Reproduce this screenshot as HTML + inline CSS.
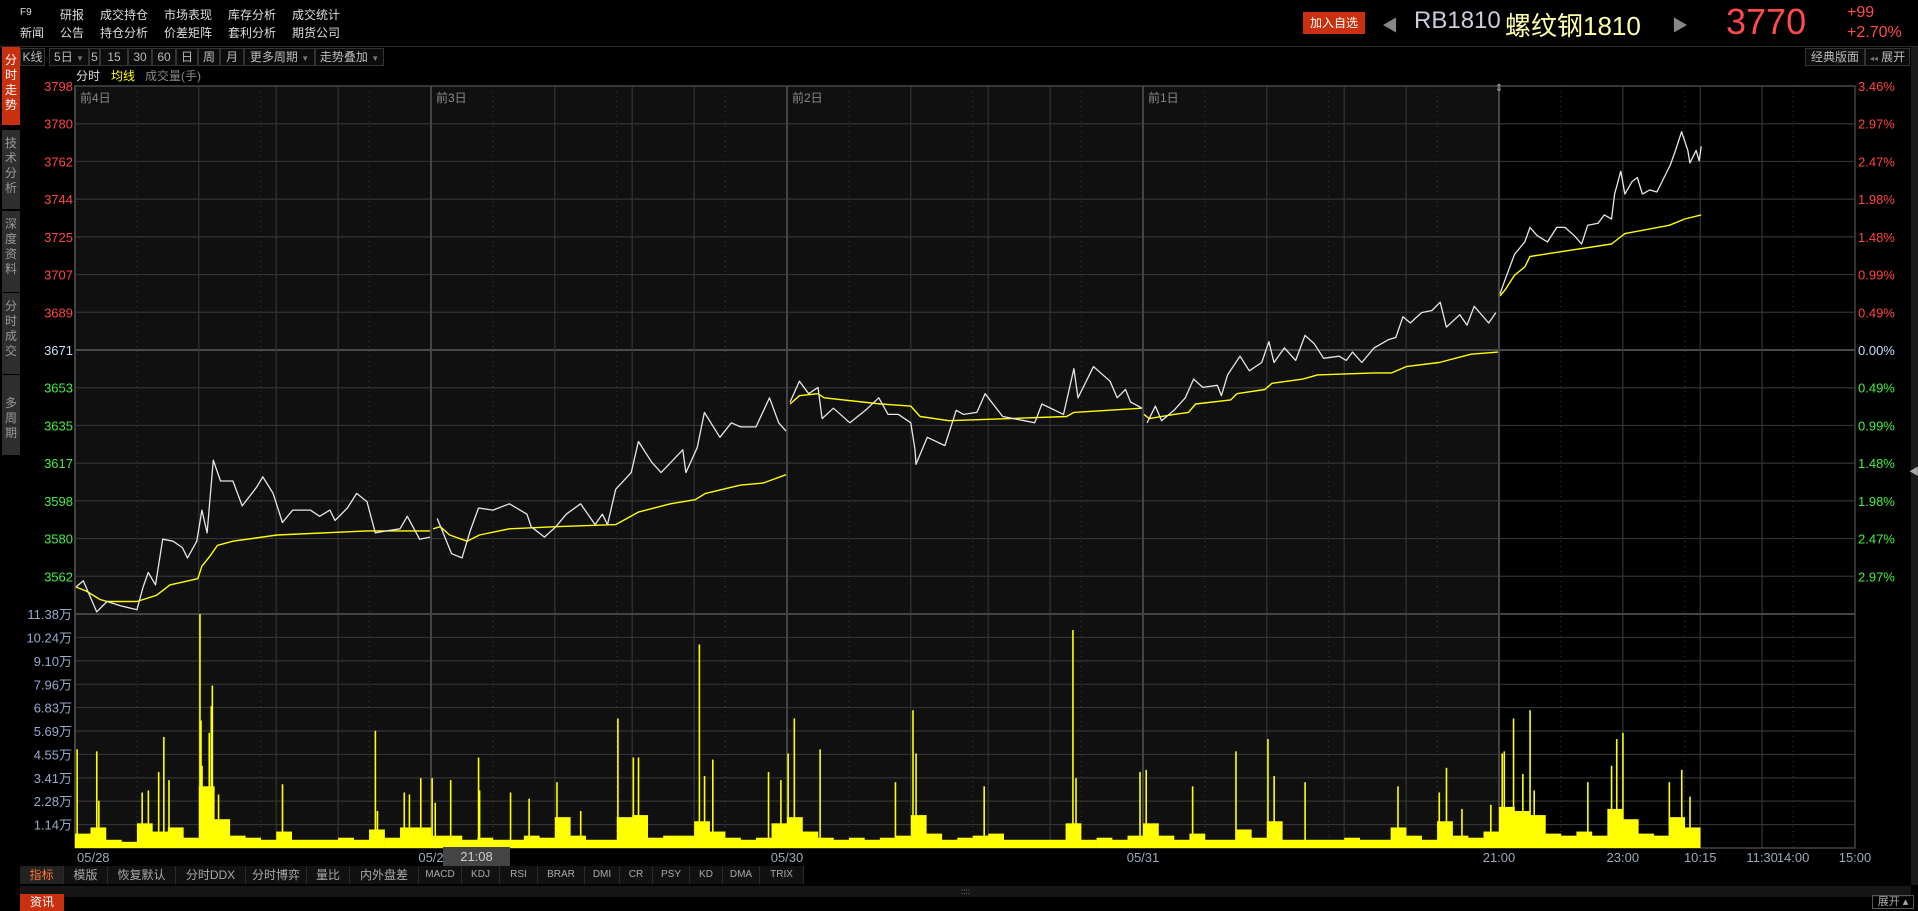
<!DOCTYPE html>
<html><head><meta charset="utf-8">
<style>
*{margin:0;padding:0;box-sizing:border-box}
body{width:1918px;height:911px;background:#000;overflow:hidden;position:relative;font-family:"Liberation Sans","Noto Sans CJK SC",sans-serif;color:#ccc}
.a{position:absolute;white-space:nowrap}
.menu{font-size:12px;color:#ddd}
.tb{position:absolute;top:48px;height:18px;border:1px solid #333;background:#0c0c0c;color:#bbb;font-size:12px;line-height:16px;text-align:center}
.bt{position:absolute;top:866px;height:18px;border-right:1px solid #2a2a2a;background:#111;color:#aaa;font-size:12px;line-height:18px;text-align:center}
.side{position:absolute;left:2px;width:18px;background:#2e2e2e;color:#999;font-size:12px;line-height:15px;text-align:center;padding-top:6px}
</style></head><body>
<div class="a menu" style="left:20px;top:7px;font-size:10px">F9</div>
<div class="a menu" style="left:60px;top:6px">研报</div>
<div class="a menu" style="left:100px;top:6px">成交持仓</div>
<div class="a menu" style="left:164px;top:6px">市场表现</div>
<div class="a menu" style="left:228px;top:6px">库存分析</div>
<div class="a menu" style="left:292px;top:6px">成交统计</div>
<div class="a menu" style="left:20px;top:24px">新闻</div>
<div class="a menu" style="left:60px;top:24px">公告</div>
<div class="a menu" style="left:100px;top:24px">持仓分析</div>
<div class="a menu" style="left:164px;top:24px">价差矩阵</div>
<div class="a menu" style="left:228px;top:24px">套利分析</div>
<div class="a menu" style="left:292px;top:24px">期货公司</div>

<div class="a" style="left:1303px;top:12px;width:62px;height:22px;background:#c8300f;color:#fff;font-size:12px;line-height:22px;text-align:center">加入自选</div>
<div class="a" style="left:1382px;top:12px;font-size:16px;color:#888">◀</div>
<div class="a" style="left:1414px;top:7px;font-size:24px;color:#ccd">RB1810</div>
<div class="a" style="left:1505px;top:6px;font-size:26px;color:#ffffa8">螺纹钢1810</div>
<div class="a" style="left:1672px;top:12px;font-size:16px;color:#888">▶</div>
<div class="a" style="left:1726px;top:1px;font-size:36px;color:#ff4a4a">3770</div>
<div class="a" style="left:1847px;top:4px;font-size:16px;color:#ff4a4a">+99</div>
<div class="a" style="left:1847px;top:24px;font-size:16px;color:#ff4a4a">+2.70%</div>
<div class="a" style="left:0;top:46px;width:1918px;height:1px;background:#2a2a2a"></div>

<div class="tb" style="left:20px;width:25px">K线</div>
<div class="tb" style="left:49px;width:40px">5日 <span style="font-size:8px;color:#777">▼</span></div>
<div class="tb" style="left:89px;width:11px">5</div>
<div class="tb" style="left:100px;width:28px">15</div>
<div class="tb" style="left:128px;width:24px">30</div>
<div class="tb" style="left:152px;width:24px">60</div>
<div class="tb" style="left:176px;width:22px">日</div>
<div class="tb" style="left:198px;width:22px">周</div>
<div class="tb" style="left:220px;width:24px">月</div>
<div class="tb" style="left:244px;width:71px">更多周期 <span style="font-size:8px;color:#777">▼</span></div>
<div class="tb" style="left:315px;width:69px">走势叠加 <span style="font-size:8px;color:#777">▼</span></div>
<div class="tb" style="left:1805px;width:60px">经典版面</div>
<div class="tb" style="left:1865px;width:45px"><span style="font-size:8px;color:#777">◂◂</span> 展开</div>

<div class="a" style="left:76px;top:67px;font-size:12px;color:#ddd">分时</div>
<div class="a" style="left:111px;top:67px;font-size:12px;color:#ffff00">均线</div>
<div class="a" style="left:145px;top:67px;font-size:12px;color:#888">成交量(手)</div>

<div class="side" style="top:47px;height:78px;background:#c8300f;color:#fff">分<br>时<br>走<br>势</div>
<div class="side" style="top:130px;height:79px">技<br>术<br>分<br>析</div>
<div class="side" style="top:211px;height:81px">深<br>度<br>资<br>料</div>
<div class="side" style="top:293px;height:81px">分<br>时<br>成<br>交</div>
<div class="side" style="top:375px;height:80px"><br>多<br>周<br>期</div>
<div class="a" style="left:1911px;top:47px;width:7px;height:838px;background:#1a1a1a"></div>
<div class="a" style="left:1909px;top:463px;font-size:10px;color:#aaa">◀</div>

<svg id="chart" class="a" style="left:0;top:0" width="1918" height="911"></svg>

<div class="a" style="left:443px;top:847px;width:67px;height:19px;background:#444;color:#ccc;font-size:13px;line-height:19px;text-align:center">21:08</div>

<div class="bt" style="left:20px;width:44px;color:#ff7733;background:#222">指标</div>
<div class="bt" style="left:64px;width:44px">模版</div>
<div class="bt" style="left:108px;width:68px">恢复默认</div>
<div class="bt" style="left:176px;width:70px">分时DDX</div>
<div class="bt" style="left:246px;width:61px">分时博弈</div>
<div class="bt" style="left:307px;width:43px">量比</div>
<div class="bt" style="left:350px;width:69px">内外盘差</div>
<div class="bt" style="left:419px;width:43px;font-size:10px">MACD</div>
<div class="bt" style="left:462px;width:38px;font-size:10px">KDJ</div>
<div class="bt" style="left:500px;width:38px;font-size:10px">RSI</div>
<div class="bt" style="left:538px;width:47px;font-size:10px">BRAR</div>
<div class="bt" style="left:585px;width:35px;font-size:10px">DMI</div>
<div class="bt" style="left:620px;width:33px;font-size:10px">CR</div>
<div class="bt" style="left:653px;width:37px;font-size:10px">PSY</div>
<div class="bt" style="left:690px;width:33px;font-size:10px">KD</div>
<div class="bt" style="left:723px;width:37px;font-size:10px">DMA</div>
<div class="bt" style="left:760px;width:44px;font-size:10px">TRIX</div>
<div class="a" style="left:20px;top:886px;width:1891px;height:11px;background:#161616;color:#888;font-size:8px;text-align:center;line-height:11px">::::</div>
<div class="a" style="left:20px;top:894px;width:44px;height:17px;background:#c8300f;color:#fff;font-size:12px;line-height:17px;text-align:center">资讯</div>
<div class="a" style="left:1872px;top:895px;width:42px;height:14px;border:1px solid #555;color:#aaa;font-size:11px;line-height:12px;text-align:center">展开 ▴</div>

<script>
const priceMin=[1,8,21,31,44,60,66,71,78,85,95,104,109,118,123,128,134,141,153,162,176,182,192,201,211,228,237,247,252,264,273,283,291,302,315,322,334,344,
351,365,375,383,391,405,421,438,442,455,466,476,490,504,511,516,524,539,546,559,568,589,592,603,610,625,636,645,660,673,682,689,
693,702,711,720,724,735,751,766,779,788,798,810,814,815,826,843,854,861,874,882,899,920,930,937,958,968,972,987,1003,1010,1018,1023,1034,
1039,1047,1053,1065,1076,1084,1093,1107,1111,1117,1129,1138,1150,1157,1162,1172,1183,1192,1201,1210,1225,1232,1238,1247,1259,1273,1280,1287,1294,1305,1315,1323,1329,1342,1349,1356,1370,1377,
1381,1386,1395,1405,1410,1417,1427,1436,1444,1453,1460,1466,1476,1482,1489,1492,1498,1502,1509,1514,1519,1526,1533,1539,1546,1551,1557,1563,1565,1571,1574,1576];
const priceVal=[3557,3560,3545,3550,3548,3546,3557,3564,3558,3580,3579,3576,3571,3579,3594,3583,3618,3608,3608,3596,3605,3610,3602,3588,3594,3594,3591,3594,3589,3595,3602,3598,3583,3584,3585,3591,3580,3581,
3590,3573,3571,3584,3595,3594,3597,3592,3586,3581,3586,3592,3597,3587,3592,3587,3604,3612,3627,3617,3612,3623,3612,3624,3641,3629,3636,3634,3634,3648,3636,3632,
3646,3656,3650,3653,3638,3643,3636,3642,3648,3640,3640,3636,3623,3616,3629,3625,3642,3640,3641,3650,3639,3637,3636,3645,3640,3662,3648,3663,3656,3648,3652,3646,3643,
3636,3644,3637,3642,3648,3657,3653,3654,3649,3659,3668,3661,3665,3675,3665,3672,3666,3678,3674,3667,3668,3666,3670,3665,3672,3676,3677,3687,3684,3689,3690,3694,3682,3688,3683,3692,3684,3689,
3698,3705,3717,3723,3730,3726,3723,3730,3730,3726,3722,3731,3732,3736,3734,3746,3757,3746,3752,3754,3746,3748,3747,3753,3760,3767,3776,3767,3761,3767,3762,3769];
const avgMin=[1,11,24,31,60,79,92,119,123,131,138,153,196,283,344,
347,354,363,380,392,421,466,524,546,577,601,611,645,667,689,
693,702,720,726,781,810,819,847,961,968,1034,
1036,1041,1065,1079,1086,1120,1126,1153,1160,1190,1204,1259,1276,1290,1322,1353,1379,
1381,1386,1395,1405,1410,1436,1489,1502,1545,1560,1576];
const avgVal=[3557,3555,3551,3550,3550,3553,3558,3561,3567,3572,3577,3579,3582,3584,3584,
3585,3586,3582,3579,3582,3585,3586,3587,3593,3597,3599,3602,3606,3607,3611,
3645,3649,3650,3648,3645,3644,3639,3637,3639,3641,3643,
3640,3638,3640,3641,3645,3647,3650,3652,3655,3657,3659,3660,3660,3663,3665,3669,3670,
3697,3700,3707,3711,3716,3718,3722,3727,3731,3734,3736];
const volBase=[0.7,1.0,0.4,0.3,1.2,0.8,1.0,0.5,3.0,1.4,0.6,0.5,0.4,0.8,0.4,0.4,0.4,0.5,0.4,0.9,0.5,1.0,1.0,
0.6,0.6,0.4,0.5,0.4,0.4,0.6,0.5,1.5,0.6,0.4,0.4,1.5,1.6,0.5,0.6,0.6,1.3,0.8,0.5,0.4,0.5,1.2,
1.5,0.8,0.5,0.4,0.5,0.4,0.5,0.6,1.6,0.7,0.4,0.5,0.6,0.7,0.4,0.4,0.4,0.4,1.2,0.4,0.5,0.4,0.6,
1.2,0.6,0.4,0.7,0.4,0.4,0.9,0.5,1.3,0.4,0.4,0.4,0.4,0.5,0.4,0.4,1.0,0.6,0.4,1.3,0.6,0.5,0.8,
2.0,1.8,1.6,0.7,0.6,0.8,0.6,1.9,1.4,0.7,0.6,1.5,1.0];
const spikeMin=[2,21,23,65,71,81,86,91,121,122,123,130,132,133,139,201,291,293,319,324,335,346,349,364,391,392,
422,440,467,490,526,541,546,605,610,618,672,684,691,697,722,795,812,815,881,967,970,1032,1038,1083,1125,1156,1162,1192,1282,1322,1329,
1344,1372,1383,1385,1394,1403,1410,1414,1466,1489,1494,1500,1545,1557,1565];
const spikeVal=[4.8,4.7,2.3,2.7,2.8,3.7,5.4,3.3,11.38,6.2,4.0,5.6,6.9,7.9,2.6,3.1,5.7,1.8,2.7,2.6,3.4,3.4,2.2,3.3,4.4,2.8,
2.7,2.4,3.2,1.8,6.3,4.4,4.4,9.9,3.5,4.3,3.7,3.3,4.6,6.3,4.8,3.2,6.7,4.6,3.0,10.6,3.4,3.7,3.8,3.0,4.7,5.3,3.5,3.2,3.0,2.7,3.9,
1.9,2.1,4.6,4.7,6.3,3.6,6.7,2.8,3.2,4.0,5.3,5.6,3.2,3.8,2.5];
const priceTicks=["3798","3780","3762","3744","3725","3707","3689","3671","3653","3635","3617","3598","3580","3562"];
const pctTicks=["3.46%","2.97%","2.47%","1.98%","1.48%","0.99%","0.49%","0.00%","0.49%","0.99%","1.48%","1.98%","2.47%","2.97%"];
const volTicks=[11.38,10.24,9.10,7.96,6.83,5.69,4.55,3.41,2.28,1.14];
const dayLabels=["前4日","前3日","前2日","前1日"];
const timeLabels=[["05/28",0],["05/2",345],["05/30",690],["05/31",1035],["21:00",1380],["23:00",1500],["10:15",1575],["11:30",1635],["14:00",1665],["15:00",1725]];

const X0=75,DAY=345,PXM=356/345,PREV=3671,PSTEP=127/7;
const xOf=m=>X0+m*PXM;
const yP=p=>86+(3798-p)*528/254;
const yV=v=>848-v*234/11.38;
const NS="http://www.w3.org/2000/svg";
const svg=document.getElementById('chart');
function mk(tag,at,txt){const e=document.createElementNS(NS,tag);for(const k in at)e.setAttribute(k,at[k]);if(txt!=null)e.textContent=txt;svg.appendChild(e);return e;}

let e;
e=mk('rect',{x:X0,y:86,width:xOf(4*DAY)-X0,height:762,fill:'#101010'});


// horizontal grid
for(let k=-7;k<=7;k++){
  const y=yP(PREV+k*PSTEP);
  e=mk('line',{x1:X0,x2:1855,y1:y,y2:y,stroke:k===0?'#4a4a4a':'#333','stroke-width':k===0?2:1.2});
  
  
}
volTicks.forEach(v=>{
  e=mk('line',{x1:X0,x2:1855,y1:yV(v),y2:yV(v),stroke:'#333','stroke-width':1.2});
  
  
});
// vertical grid
for(let d=0;d<5;d++){
  [[0,'day'],[60,'dot'],[120,'s'],[180,'dot'],[195,'s'],[255,'s'],[285,'dot']].forEach(([o,t])=>{
    const x=xOf(d*DAY+o);
    e=mk('line',{x1:x,x2:x,y1:86,y2:848,stroke:t==='day'?'#444':t==='dot'?'#3a3a3a':'#333','stroke-width':t==='day'?2:t==='dot'?1:1.2,'stroke-dasharray':t==='dot'?'1,4':'none'});
    
    
  });
}
e=mk('rect',{x:X0,y:86,width:1855-X0,height:762,fill:'none',stroke:'#444','stroke-width':1.5});


e=mk('line',{x1:X0,x2:1855,y1:614,y2:614,stroke:'#444','stroke-width':2});


// axis labels
priceTicks.forEach((t,i)=>{
  const k=7-i;const y=yP(PREV+k*PSTEP);
  const col=k>0?'#ff4444':k<0?'#44ee44':'#ccddff';
  e=mk('text',{x:73,y:y+5,'text-anchor':'end','font-size':13,fill:col},t);
  
  
  e=mk('text',{x:1858,y:y+5,'font-size':13,fill:col},pctTicks[i]);
  
  
});
volTicks.forEach(v=>{
  e=mk('text',{x:72,y:yV(v)+5,'text-anchor':'end','font-size':13,fill:'#99aacc'},v.toFixed(2)+'万');
  
  
});
dayLabels.forEach((t,i)=>{
  e=mk('text',{x:xOf(i*DAY)+5,y:102,'font-size':12,fill:'#888'},t);
  
  
});
timeLabels.forEach(([t,m],i)=>{
  const x=xOf(m);
  e=mk('text',{x:i===0?x+2:x,y:862,'text-anchor':i===0?'start':'middle','font-size':13,fill:'#99aabb'},t);
  
  
});
// volume base buckets (15 min)
volBase.forEach((v,i)=>{
  const x=xOf(i*15);
  e=mk('rect',{x:x,y:yV(v),width:15*PXM+0.3,height:848-yV(v),fill:'#ffff00'});
  
  
});
spikeMin.forEach((m,i)=>{
  const x=xOf(m);
  e=mk('rect',{x:x-0.7,y:yV(spikeVal[i]),width:1.6,height:848-yV(spikeVal[i]),fill:'#ffff00'});
  
  
});
// lines per day
function drawLine(ms,vs,col,name,w){
  for(let d=0;d<5;d++){
    const pts=[];
    ms.forEach((m,i)=>{if(Math.floor(m/DAY)===d)pts.push(xOf(m).toFixed(1)+','+yP(vs[i]).toFixed(1));});
    if(pts.length<2)continue;
    e=mk('polyline',{points:pts.join(' '),fill:'none',stroke:col,'stroke-width':w,'stroke-linejoin':'round'});
    
    
  }
}
drawLine(avgMin,avgVal,'#ffff00','average-price-line',1.4);
drawLine(priceMin,priceVal,'#e6e6e6','price-line',1.3);
e=mk('text',{x:xOf(4*DAY),y:91,'text-anchor':'middle','font-size':10,fill:'#aaa'},'⇕');


</script>
</body></html>
